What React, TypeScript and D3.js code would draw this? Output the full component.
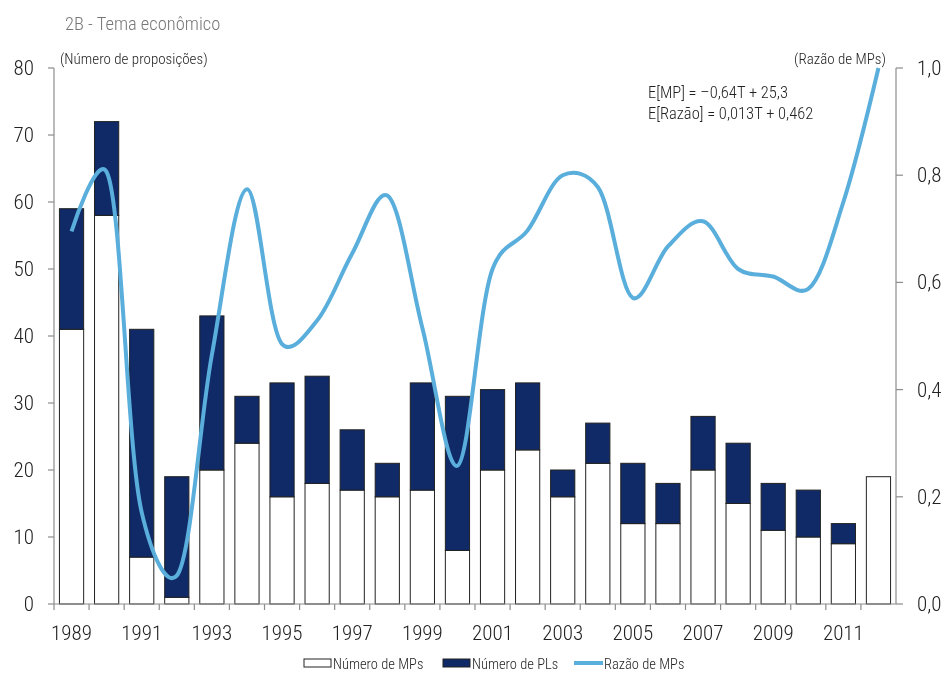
import { useEffect, useRef } from "react"
import * as d3 from "d3"

const years = ["1989", "1990", "1991", "1992", "1993", "1994", "1995", "1996", "1997", "1998", "1999", "2000",
  "2001", "2002", "2003", "2004", "2005", "2006", "2007", "2008", "2009", "2010", "2011", "2012"]
const mps = [41, 58, 7, 1, 20, 24, 16, 18, 17, 16, 17, 8, 20, 23, 16, 21, 12, 12, 20, 15, 11, 10, 9, 19]
const pls = [18, 14, 34, 18, 23, 7, 17, 16, 9, 5, 16, 23, 12, 10, 4, 6, 9, 6, 8, 9, 7, 7, 3, 0]
const ratio = [0.695, 0.806, 0.171, 0.053, 0.465, 0.774, 0.485, 0.529, 0.654, 0.762, 0.515, 0.258,
  0.625, 0.697, 0.8, 0.778, 0.571, 0.667, 0.714, 0.625, 0.611, 0.588, 0.75, 1.0]
const leftTicks = [0, 10, 20, 30, 40, 50, 60, 70, 80]
const rightTicks = [0, 0.2, 0.4, 0.6, 0.8, 1.0]
const equations = ["E[MP] = \u20130,64T + 25,3", "E[Razão] = 0,013T + 0,462"]

const W = 951
const H = 674
const FONT = "'Liberation Sans Narrow', 'Roboto Condensed', Roboto, sans-serif"
const NAVY = "#0f2a66"
const LINE = "#5aaedc"
const AXIS = "#8c8c8c"

const Chart = () => {
  const svgRef = useRef<SVGSVGElement | null>(null)

  useEffect(() => {
    const svg = d3.select(svgRef.current)
    svg.selectAll("*").remove()

    const left = 54
    const right = 896
    const top = 68
    const bottom = 604

    const x = d3.scaleBand<string>().domain(years).range([left, right]).paddingInner(0.31).paddingOuter(0.155)
    const xb = d3.scaleBand<string>().domain(years).range([left, right])
    const y = d3.scaleLinear().domain([0, 80]).range([bottom, top])
    const y2 = d3.scaleLinear().domain([0, 1]).range([bottom, top])

    svg.append("text")
      .attr("x", 65).attr("y", 30)
      .attr("font-family", FONT).attr("font-size", 18.5).attr("font-weight", 300).attr("fill", "#777")
      .text("2B - Tema econômico")

    svg.append("text")
      .attr("x", 60).attr("y", 64)
      .attr("font-family", FONT).attr("font-size", 15).attr("font-weight", 300).attr("fill", "#222")
      .text("(Número de proposições)")

    svg.append("text")
      .attr("x", 886).attr("y", 64).attr("text-anchor", "end")
      .attr("font-family", FONT).attr("font-size", 15).attr("font-weight", 300).attr("fill", "#222")
      .text("(Razão de MPs)")

    // bars
    const g = svg.append("g")
    years.forEach((yr, i) => {
      const bx = x(yr) as number
      g.append("rect")
        .attr("x", bx).attr("width", x.bandwidth())
        .attr("y", y(mps[i])).attr("height", y(0) - y(mps[i]))
        .attr("fill", "#fff").attr("stroke", "#222").attr("stroke-width", 1)
      if (pls[i] > 0) {
        g.append("rect")
          .attr("x", bx).attr("width", x.bandwidth())
          .attr("y", y(mps[i] + pls[i])).attr("height", y(mps[i]) - y(mps[i] + pls[i]))
          .attr("fill", NAVY).attr("stroke", "#222").attr("stroke-width", 1)
      }
    })

    // axes
    const ax = svg.append("g").attr("stroke", AXIS).attr("stroke-width", 1.2)
    ax.append("line").attr("x1", left).attr("x2", left).attr("y1", top).attr("y2", bottom)
    ax.append("line").attr("x1", right).attr("x2", right).attr("y1", top).attr("y2", bottom)
    ax.append("line").attr("x1", left).attr("x2", right).attr("y1", bottom).attr("y2", bottom)
    leftTicks.forEach(t => {
      ax.append("line").attr("x1", left - 6).attr("x2", left).attr("y1", y(t)).attr("y2", y(t))
    })
    rightTicks.forEach(t => {
      ax.append("line").attr("x1", right).attr("x2", right + 7).attr("y1", y2(t)).attr("y2", y2(t))
    })
    years.forEach(yr => {
      const bx = xb(yr) as number
      ax.append("line").attr("x1", bx).attr("x2", bx).attr("y1", bottom).attr("y2", bottom + 6)
    })

    const tickText = (sel: d3.Selection<SVGTextElement, any, any, any>) =>
      sel.attr("font-family", FONT).attr("font-size", 21).attr("font-weight", 300).attr("fill", "#222")

    svg.append("g").selectAll("text").data(leftTicks).enter().append("text")
      .attr("x", 34).attr("y", d => y(d) + 7).attr("text-anchor", "end")
      .call(tickText)
      .text(d => String(d))

    svg.append("g").selectAll("text").data(rightTicks).enter().append("text")
      .attr("x", 917).attr("y", d => y2(d) + 7)
      .call(tickText)
      .text(d => d3.format(".1f")(d).replace(".", ","))

    svg.append("g").selectAll("text").data(years.filter((_, i) => i % 2 === 0)).enter().append("text")
      .attr("x", d => (xb(d) as number) + xb.bandwidth() / 2).attr("y", 640).attr("text-anchor", "middle")
      .call(tickText)
      .text(d => d)

    // ratio line
    const line = d3.line<number>()
      .x((_, i) => (xb(years[i]) as number) + xb.bandwidth() / 2)
      .y(d => y2(d))
      .curve(d3.curveCatmullRom.alpha(0.25))
    svg.append("path")
      .attr("d", line(ratio))
      .attr("fill", "none").attr("stroke", LINE).attr("stroke-width", 4)
      .attr("stroke-linecap", "butt")

    // equations
    equations.forEach((e, i) => {
      svg.append("text")
        .attr("x", 648).attr("y", 98 + i * 21)
        .attr("font-family", FONT).attr("font-size", 16.5).attr("font-weight", 300).attr("fill", "#222")
        .text(e)
    })

    // legend
    const lg = svg.append("g").attr("font-family", FONT).attr("font-size", 14.5).attr("font-weight", 300).attr("fill", "#222")
    lg.append("rect").attr("x", 304).attr("y", 659).attr("width", 27).attr("height", 8)
      .attr("fill", "#fff").attr("stroke", "#222").attr("stroke-width", 1)
    lg.append("text").attr("x", 333).attr("y", 669).text("Número de MPs")
    lg.append("rect").attr("x", 443).attr("y", 659).attr("width", 27).attr("height", 8)
      .attr("fill", NAVY).attr("stroke", "#222").attr("stroke-width", 1)
    lg.append("text").attr("x", 472).attr("y", 669).text("Número de PLs")
    lg.append("line").attr("x1", 574).attr("x2", 603).attr("y1", 663).attr("y2", 663)
      .attr("stroke", LINE).attr("stroke-width", 4)
    lg.append("text").attr("x", 604).attr("y", 669).text("Razão de MPs")
  }, [])

  return <svg ref={svgRef} width={W} height={H}
    style={{ position: "fixed", left: 0, top: 0, display: "block" }}></svg>
}

export default function App() {
  return <Chart />
}
